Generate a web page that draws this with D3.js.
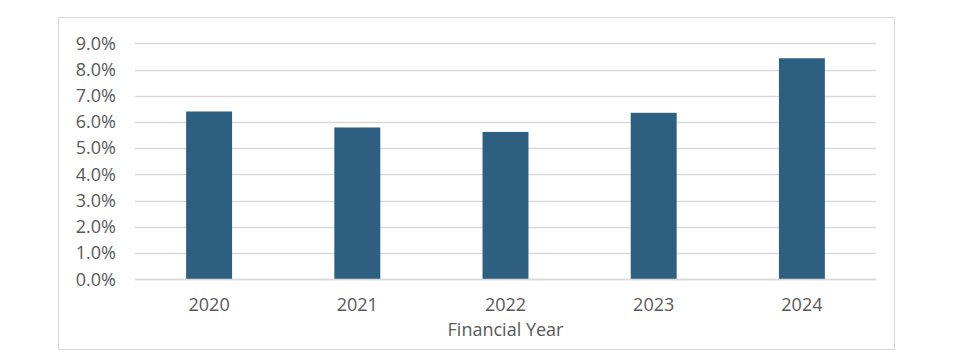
<!DOCTYPE html>
<html>
<head>
<meta charset="utf-8">
<script src="https://cdn.jsdelivr.net/npm/d3@7"></script>
<style>
  body { margin: 0; background: #fff; }
  text { font-family: "Open Sans", "Liberation Sans", sans-serif; fill: #595959; }
</style>
</head>
<body>
<svg id="chart" width="960" height="364"></svg>
<script>
// data
var years = ["2020", "2021", "2022", "2023", "2024"];
var rates = [6.40, 5.79, 5.62, 6.35, 8.43];
var yTicks = [0, 1, 2, 3, 4, 5, 6, 7, 8, 9];

var svg = d3.select("#chart");

// outer frame
svg.append("rect")
    .attr("x", 58.5).attr("y", 17.5)
    .attr("width", 836).attr("height", 332)
    .attr("fill", "#fff")
    .attr("stroke", "#d9d9d9")
    .attr("stroke-width", 1);

var plotLeft = 135, plotRight = 876, plotTop = 43.3, plotBottom = 279.3;

var xScale = d3.scaleBand()
    .domain(years)
    .range([plotLeft, plotRight]);
var yScale = d3.scaleLinear()
    .domain([0, 9])
    .range([plotBottom, plotTop]);

var barWidth = xScale.bandwidth() * 0.31;

// gridlines
svg.append("g")
    .selectAll("line")
    .data(yTicks)
    .enter()
    .append("line")
        .attr("x1", plotLeft)
        .attr("x2", plotRight)
        .attr("y1", function(d){ return Math.round(yScale(d)) + 0.5; })
        .attr("y2", function(d){ return Math.round(yScale(d)) + 0.5; })
        .attr("stroke", "#d9d9d9")
        .attr("stroke-width", 1.3);

// y axis labels
var yAxis = svg.append("g")
    .attr("transform", "translate(" + plotLeft + ",0)")
    .call(d3.axisLeft(yScale).tickValues(yTicks).tickSize(0).tickPadding(19)
        .tickFormat(function(d){ return d.toFixed(1) + "%"; }));
yAxis.select(".domain").remove();
yAxis.selectAll("text")
    .attr("font-size", "18px")
    .style("font-family", "\"Open Sans\", sans-serif")
    .attr("fill", "#595959");

// bars
svg.append("g")
    .selectAll("rect")
    .data(years)
    .enter()
    .append("rect")
        .attr("x", function(d){ return xScale(d) + xScale.bandwidth() / 2 - barWidth / 2; })
        .attr("y", function(d, i){ return yScale(rates[i]); })
        .attr("width", barWidth)
        .attr("height", function(d, i){ return plotBottom - yScale(rates[i]); })
        .attr("fill", "#2d5f80");

// baseline
svg.append("line")
    .attr("x1", plotLeft).attr("x2", plotRight)
    .attr("y1", Math.round(plotBottom) + 0.5).attr("y2", Math.round(plotBottom) + 0.5)
    .attr("stroke", "#d9d9d9")
    .attr("stroke-width", 1.3);

// x axis labels
var xAxis = svg.append("g")
    .attr("transform", "translate(0," + plotBottom + ")")
    .call(d3.axisBottom(xScale).tickSize(0).tickPadding(19));
xAxis.select(".domain").remove();
xAxis.selectAll("text")
    .attr("font-size", "18px")
    .style("font-family", "\"Open Sans\", sans-serif")
    .attr("fill", "#595959");

// axis title
svg.append("text")
    .attr("x", (plotLeft + plotRight) / 2)
    .attr("y", 336)
    .attr("text-anchor", "middle")
    .attr("font-size", "18px")
    .text("Financial Year");
</script>
</body>
</html>
